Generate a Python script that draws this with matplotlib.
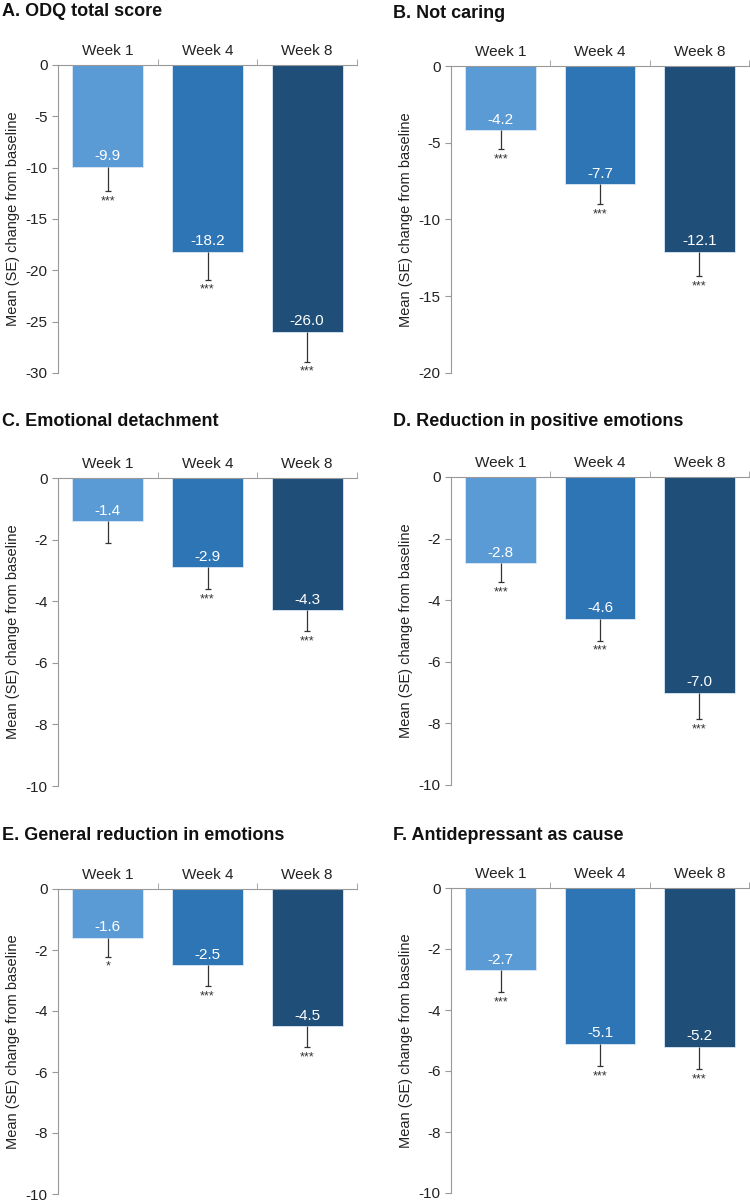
import matplotlib
matplotlib.use("Agg")
import matplotlib.pyplot as plt
import numpy as np

plt.rcParams['font.family'] = ['Liberation Sans', 'DejaVu Sans']

weeks = ["Week 1", "Week 4", "Week 8"]
colors = ["#5b9bd5", "#2e75b6", "#1f4e79"]

titles = ["A. ODQ total score", "B. Not caring", "C. Emotional detachment",
          "D. Reduction in positive emotions", "E. General reduction in emotions",
          "F. Antidepressant as cause"]

mean_a = [-9.9, -18.2, -26.0]
se_a = [2.4, 2.7, 2.9]
sig_a = ["***", "***", "***"]

mean_b = [-4.2, -7.7, -12.1]
se_b = [1.2, 1.3, 1.6]
sig_b = ["***", "***", "***"]

mean_c = [-1.4, -2.9, -4.3]
se_c = [0.7, 0.72, 0.67]
sig_c = ["", "***", "***"]

mean_d = [-2.8, -4.6, -7.0]
se_d = [0.61, 0.71, 0.85]
sig_d = ["***", "***", "***"]

mean_e = [-1.6, -2.5, -4.5]
se_e = [0.62, 0.69, 0.68]
sig_e = ["*", "***", "***"]

mean_f = [-2.7, -5.1, -5.2]
se_f = [0.71, 0.73, 0.73]
sig_f = ["***", "***", "***"]

ymins = [-30, -20, -10, -10, -10, -10]
ysteps = [5, 5, 2, 2, 2, 2]

# pixel boxes: left, right, top, bottom
W, H = 750, 1204
boxes = [(58, 357, 65, 373), (451, 749, 66, 373),
         (58, 357, 478, 786), (451, 749, 477, 785),
         (58, 357, 889, 1194), (451, 749, 888, 1193)]
title_pos = [(2, 12), (393, 13), (2, 422), (393, 421), (2, 836), (393, 835)]

fig = plt.figure(figsize=(7.5, 12.04), dpi=100)

data = [(mean_a, se_a, sig_a), (mean_b, se_b, sig_b), (mean_c, se_c, sig_c),
        (mean_d, se_d, sig_d), (mean_e, se_e, sig_e), (mean_f, se_f, sig_f)]

for i, (means, ses, sigs) in enumerate(data):
    l, r, t, b = boxes[i]
    ax = fig.add_axes([l / W, 1 - b / H, (r - l) / W, (b - t) / H])
    x = np.arange(len(weeks))
    means = np.array(means)
    ses = np.array(ses)
    ax.bar(x, means, width=0.71, color=colors, edgecolor="#dbe8f5", linewidth=0.6, zorder=2)
    # lower error whisker only, cap at the far end
    ax.vlines(x, means - ses, means, color="#333333", linewidth=0.9, zorder=3)
    ax.plot(x, means - ses, linestyle="none", marker="_", markersize=5,
            markeredgewidth=0.9, color="#333333", zorder=3)
    for xi, m, s, st in zip(x, means, ses, sigs):
        ax.annotate(f"{m:.1f}", (xi, m), xytext=(0, 2.5), textcoords="offset points",
                    ha="center", va="bottom", color="white", fontsize=11)
        if st:
            ax.annotate(st, (xi, m - s), xytext=(0, -3), textcoords="offset points",
                        ha="center", va="top", color="#333333", fontsize=9)
    ax.set_xlim(-0.5, 2.5)
    ax.set_ylim(ymins[i], 0)
    yt = np.arange(0, ymins[i] - 0.01, -ysteps[i])
    ax.set_yticks(yt)
    ax.set_yticklabels([f"{v:g}" for v in yt])
    ax.xaxis.tick_top()
    ax.set_xticks(x)
    ax.set_xticklabels(weeks)
    ax.set_xticks([0.5, 1.5, 2.5], minor=True)
    ax.tick_params(axis="x", which="major", length=0, pad=5, labelsize=11, colors="#222222")
    ax.tick_params(axis="x", which="minor", length=4, color="#999999")
    ax.tick_params(axis="y", length=4, color="#999999", labelsize=11, labelcolor="#222222")
    for side in ["bottom", "right"]:
        ax.spines[side].set_visible(False)
    ax.spines["top"].set_color("#999999")
    ax.spines["left"].set_color("#999999")
    ax.set_ylabel("Mean (SE) change from baseline", fontsize=10.5, color="#222222")
    tx, ty = title_pos[i]
    fig.text(tx / W, 1 - ty / H, titles[i], fontsize=13, fontweight="bold",
             ha="left", va="center", color="#111111")

fig.savefig("out.png", dpi=100)
